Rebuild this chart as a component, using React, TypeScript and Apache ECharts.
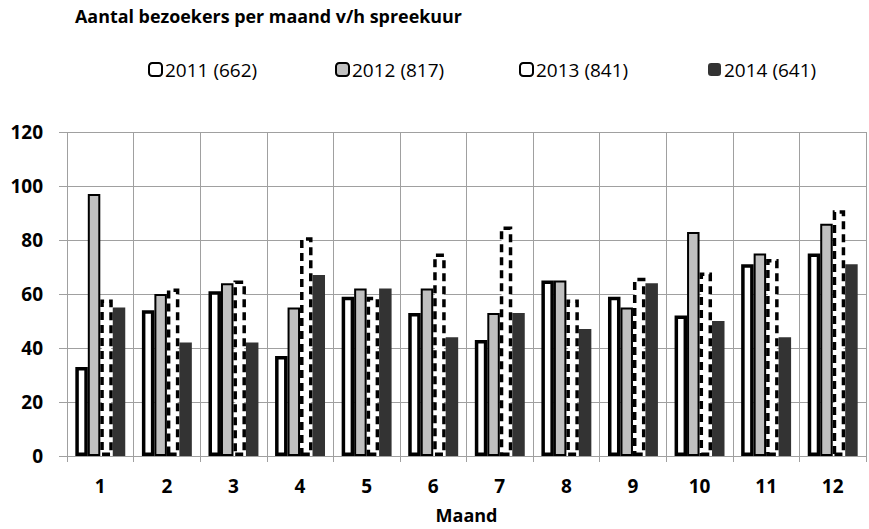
import React, { useEffect, useRef } from "react";
import * as echarts from "echarts";

const months = ["1", "2", "3", "4", "5", "6", "7", "8", "9", "10", "11", "12"];
const seriesNames = ["2011 (662)", "2012 (817)", "2013 (841)", "2014 (641)"];
const v2011 = [33, 54, 61, 37, 59, 53, 43, 65, 59, 52, 71, 75];
const v2012 = [97, 60, 64, 55, 62, 62, 53, 65, 55, 83, 75, 86];
const v2013 = [58, 62, 65, 81, 59, 75, 85, 58, 66, 68, 73, 91];
const v2014 = [55, 42, 42, 67, 62, 44, 53, 47, 64, 50, 44, 71];
const yTicks = [0, 20, 40, 60, 80, 100, 120];

const FONT = "'Open Sans', 'Noto Sans', sans-serif";

export default function App() {
  const ref = useRef<HTMLDivElement>(null);
  useEffect(() => {
    if (!ref.current) return;
    const chart = echarts.init(ref.current, null, { renderer: "svg" });
    const legendLefts = [148, 335, 519, 708];
    chart.setOption({
      animation: false,
      backgroundColor: "#ffffff",
      title: {
        text: "Aantal bezoekers per maand v/h spreekuur",
        left: 75,
        top: 7,
        padding: 0,
        textStyle: { fontFamily: FONT, fontWeight: "bold", fontSize: 17.9, color: "#000" },
      },
      legend: seriesNames.map((n, i) => ({
        data: [n],
        left: legendLefts[i],
        top: 60,
        padding: 0,
        itemWidth: 13,
        itemHeight: 13,
        itemGap: 4,
        textStyle: { fontFamily: FONT, fontSize: 19, color: "#000", padding: [0, 0, 0, -2] },
        selectedMode: false,
      })),
      grid: { left: 67, width: 799, top: 132, height: 327, containLabel: false },
      xAxis: {
        type: "category",
        data: months,
        name: "Maand",
        nameLocation: "middle",
        nameGap: 50,
        nameTextStyle: { fontFamily: FONT, fontWeight: "bold", fontSize: 18, color: "#000" },
        axisLine: { lineStyle: { color: "#a0a0a0", width: 1 } },
        axisTick: { show: true, length: 6, lineStyle: { color: "#a0a0a0" } },
        axisLabel: { fontFamily: FONT, fontWeight: "bold", fontSize: 19, color: "#000", margin: 20 },
        splitLine: { show: true, lineStyle: { color: "#a0a0a0", width: 1 } },
      },
      yAxis: {
        type: "value",
        min: 0,
        max: yTicks[yTicks.length - 1],
        interval: 20,
        axisLine: { show: false },
        axisTick: { show: true, length: 8, lineStyle: { color: "#a0a0a0" } },
        axisLabel: { fontFamily: FONT, fontWeight: "bold", fontSize: 19, color: "#000", margin: 24 },
        splitLine: { show: true, lineStyle: { color: "#a0a0a0", width: 1 } },
      },
      series: [
        {
          name: seriesNames[0],
          type: "bar",
          data: v2011,
          barGap: "0%",
          barCategoryGap: "25%",
          itemStyle: { color: "#ffffff", borderColor: "#000000", borderWidth: 3.5 },
        },
        {
          name: seriesNames[1],
          type: "bar",
          data: v2012,
          itemStyle: { color: "#c0c0c0", borderColor: "#000000", borderWidth: 2 },
        },
        {
          name: seriesNames[2],
          type: "bar",
          data: v2013,
          itemStyle: {
            color: "#ffffff",
            borderColor: "#000000",
            borderWidth: 3.5,
            borderType: [8, 5],
          },
        },
        {
          name: seriesNames[3],
          type: "bar",
          data: v2014,
          itemStyle: { color: "#333333", borderWidth: 0 },
        },
      ],
    });
    return () => chart.dispose();
  }, []);
  return <div ref={ref} style={{ width: 869, height: 529, position: "absolute", left: 0, top: 0 }} />;
}
